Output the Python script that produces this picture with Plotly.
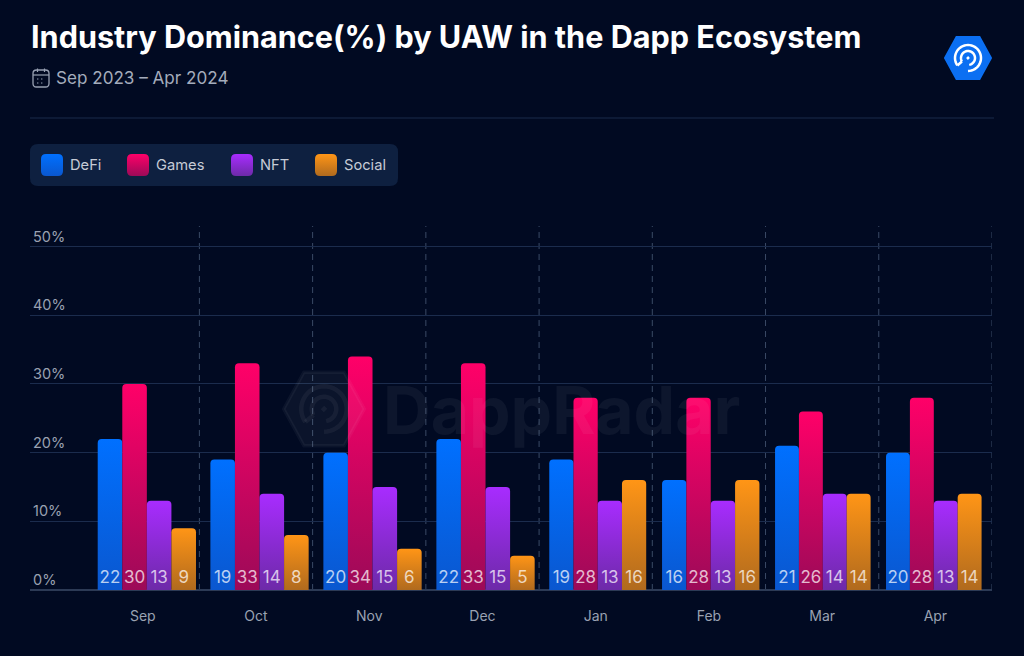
import json

import numpy as np
import plotly.graph_objects as go

months = ["Sep", "Oct", "Nov", "Dec", "Jan", "Feb", "Mar", "Apr"]
defi = [22, 19, 20, 22, 19, 16, 21, 20]
games = [30, 33, 34, 33, 28, 28, 26, 28]
nft = [13, 14, 15, 15, 13, 13, 14, 13]
social = [9, 8, 6, 5, 16, 16, 14, 14]
y_ticks = [0, 10, 20, 30, 40, 50]

series_names = ["DeFi", "Games", "NFT", "Social"]
series_values = [defi, games, nft, social]
top_colors = ["#0070ff", "#ff0068", "#a82cff", "#ff9516"]
bottom_colors = ["#0a57cf", "#9c0a58", "#6d2aa8", "#b06a1e"]

BG = "#010a22"
W, H = 1024, 656
LEFT, RIGHT, TOP, BOTTOM = 30, 992, 226, 590

# the groups drift and narrow slightly towards the right in the original
group_start = [-0.398, -0.403, -0.405, -0.407, -0.41, -0.414, -0.416, -0.436]
bar_width = [0.217, 0.217, 0.217, 0.217, 0.214, 0.215, 0.211, 0.211]


def xp(x):
    return (x - LEFT) / (RIGHT - LEFT)


def yp(y):
    return (BOTTOM - y) / (BOTTOM - TOP)


def rounded_rect(x0, y0, x1, y1, r):
    return (
        f"M{xp(x0 + r)},{yp(y0)} L{xp(x1 - r)},{yp(y0)} Q{xp(x1)},{yp(y0)} {xp(x1)},{yp(y0 + r)} "
        f"L{xp(x1)},{yp(y1 - r)} Q{xp(x1)},{yp(y1)} {xp(x1 - r)},{yp(y1)} "
        f"L{xp(x0 + r)},{yp(y1)} Q{xp(x0)},{yp(y1)} {xp(x0)},{yp(y1 - r)} "
        f"L{xp(x0)},{yp(y0 + r)} Q{xp(x0)},{yp(y0)} {xp(x0 + r)},{yp(y0)} Z"
    )


def hexagon(cx, cy, w, h):
    pts = [(cx - w / 2, cy), (cx - w / 4, cy - h / 2), (cx + w / 4, cy - h / 2),
           (cx + w / 2, cy), (cx + w / 4, cy + h / 2), (cx - w / 4, cy + h / 2)]
    return "M" + " L".join(f"{xp(a)},{yp(b)}" for a, b in pts) + " Z"


def arc(cx, cy, r, start, end):
    t = np.radians(np.linspace(start, end, 40))
    return "M" + " L".join(f"{xp(cx + r * np.cos(a))},{yp(cy + r * np.sin(a))}" for a in t)


def paper_shape(path, **kw):
    return dict(type="path", xref="paper", yref="paper", path=path, **kw)


def logo_shapes(cx, cy, scale, fill, stroke, width):
    out = [paper_shape(hexagon(cx, cy, 46 * scale, 42 * scale), fillcolor=fill,
                       line=dict(width=2 * scale, color=fill))]
    out.append(paper_shape(arc(cx, cy, 13 * scale, 145, 450), line=dict(color=stroke, width=width)))
    out.append(paper_shape(arc(cx, cy, 7 * scale, 150, 440), line=dict(color=stroke, width=width)))
    # tail joining the two rings, and the centre dot
    a = np.radians(145)
    b = np.radians(150)
    out.append(paper_shape(
        f"M{xp(cx + 13 * scale * np.cos(a))},{yp(cy + 13 * scale * np.sin(a))} "
        f"L{xp(cx + 7 * scale * np.cos(b))},{yp(cy + 7 * scale * np.sin(b))} "
        f"M{xp(cx - 1 * scale)},{yp(cy + 1 * scale)} L{xp(cx + 1 * scale)},{yp(cy - 1 * scale)}",
        line=dict(color=stroke, width=width)))
    return out


fig = go.Figure()

for i, (name, values) in enumerate(zip(series_names, series_values)):
    fig.add_trace(
        go.Bar(
            x=list(range(len(months))),
            y=values,
            name=name,
            width=bar_width,
            offset=[s + i * w for s, w in zip(group_start, bar_width)],
            marker=dict(color=top_colors[i], line=dict(width=0)),
            text=values,
            textposition="inside",
            insidetextanchor="start",
            textangle=0,
            constraintext="none",
            textfont=dict(family="Inter", size=17, color="rgba(255,255,255,0.72)"),
            showlegend=False,
        )
    )

shapes = []
annotations = []

# divider + legend panel
shapes.append(dict(type="line", xref="paper", yref="paper", x0=0, x1=xp(994), y0=yp(118), y1=yp(118),
                   line=dict(color="#1b2b4b", width=1)))
shapes.append(paper_shape(rounded_rect(30, 144, 398, 186, 8), fillcolor="#0e2040", line=dict(width=0)))

legend_swatch_x = [41, 127, 231, 315]
swatch_index = []
for name, sx in zip(series_names, legend_swatch_x):
    swatch_index.append(len(shapes))
    shapes.append(paper_shape(rounded_rect(sx, 154, sx + 22, 176, 5), fillcolor="#888888", line=dict(width=0)))
    annotations.append(dict(text=name, xref="paper", yref="paper", x=xp(sx + 27), y=yp(165),
                            xanchor="left", yanchor="middle", showarrow=False,
                            font=dict(family="Inter", size=14.7, color="#c6cbd6")))

# vertical dashed separators between months
for i in range(len(months)):
    shapes.append(dict(type="line", xref="x", yref="paper", x0=i + 0.5, x1=i + 0.5, y0=0, y1=1, layer="below",
                       line=dict(color="#3a4a66", width=1, dash="6px,5px")))

# calendar icon
icon_color = "#98a1b3"
shapes.append(paper_shape(rounded_rect(33, 70, 49, 87, 3.5), line=dict(color=icon_color, width=1.3)))
shapes.append(dict(type="line", xref="paper", yref="paper", x0=xp(33), x1=xp(49), y0=yp(75), y1=yp(75),
                   line=dict(color=icon_color, width=1.2)))
for cal_x in (37.5, 44.5):
    shapes.append(dict(type="line", xref="paper", yref="paper", x0=xp(cal_x), x1=xp(cal_x), y0=yp(68.5), y1=yp(72),
                       line=dict(color=icon_color, width=1.2)))
for dot_x, dot_y in [(37, 79), (41, 79), (37, 83), (41, 83)]:
    shapes.append(dict(type="line", xref="paper", yref="paper", x0=xp(dot_x), x1=xp(dot_x + 1.4),
                       y0=yp(dot_y), y1=yp(dot_y), line=dict(color=icon_color, width=1.2)))

# logo and watermark
shapes += logo_shapes(968, 58, 1.0, "#0b6ff2", "#ffffff", 2.5)
shapes += logo_shapes(324, 409, 1.75, "rgba(255,255,255,0.045)", "rgba(255,255,255,0.05)", 4.5)

annotations.append(dict(text="Sep 2023 – Apr 2024", xref="paper", yref="paper", x=xp(54), y=yp(78),
                        xanchor="left", yanchor="middle", showarrow=False,
                        font=dict(family="Inter", size=17.1, color="#a4acbc")))
annotations.append(dict(text="<b>DappRadar</b>", xref="paper", yref="paper", x=xp(381), y=yp(410),
                        xanchor="left", yanchor="middle", showarrow=False,
                        font=dict(family="Inter", size=66, color="rgba(255,255,255,0.05)")))

fig.update_layout(
    width=W,
    height=H,
    autosize=False,
    margin=dict(l=LEFT, r=W - RIGHT, t=TOP, b=H - BOTTOM, autoexpand=False),
    paper_bgcolor=BG,
    plot_bgcolor=BG,
    barcornerradius=4,
    showlegend=False,
    uniformtext=dict(minsize=17, mode="show"),
    title=dict(
        text="Industry Dominance(%) by UAW in the Dapp Ecosystem",
        x=31 / W, y=1 - 37 / H,
        xref="container", yref="container",
        xanchor="left", yanchor="middle",
        font=dict(family="Inter", size=30.6, color="#ffffff", weight=700),
    ),
    xaxis=dict(
        tickmode="array",
        tickvals=list(range(len(months))),
        ticktext=months,
        range=[-0.996, 7.5],
        showgrid=False,
        zeroline=False,
        showline=False,
        ticks="",
        ticklabelstandoff=16,
        tickfont=dict(family="Inter", size=14, color="#9aa2b2"),
    ),
    yaxis=dict(
        tickmode="array",
        tickvals=y_ticks,
        ticktext=[f"{v}%" for v in y_ticks],
        range=[0, 53],
        ticklabelposition="inside top",
        showgrid=True,
        gridcolor="#1b2c4d",
        gridwidth=1,
        zeroline=True,
        zerolinecolor="#2c3a55",
        zerolinewidth=2,
        tickfont=dict(family="Inter", size=14.5, color="#9aa1b1"),
    ),
    shapes=shapes,
    annotations=annotations,
)

# plotly bars have no gradient fill, so add the gradients to the svg after drawing
post_script = """
document.body.style.margin = '0';
document.body.style.background = '%s';
var gd = document.getElementById('{plot_id}');
var tops = %s, bottoms = %s, swatches = %s;
function paintBars() {
  var svg = gd.querySelector('svg.main-svg');
  if (!svg.querySelector('#grad0')) {
    var ns = 'http://www.w3.org/2000/svg';
    var defs = document.createElementNS(ns, 'defs');
    tops.forEach(function (c, i) {
      var g = document.createElementNS(ns, 'linearGradient');
      g.setAttribute('id', 'grad' + i);
      g.setAttribute('x1', '0'); g.setAttribute('y1', '0');
      g.setAttribute('x2', '0'); g.setAttribute('y2', '1');
      [[0, c], [1, bottoms[i]]].forEach(function (s) {
        var st = document.createElementNS(ns, 'stop');
        st.setAttribute('offset', s[0]);
        st.setAttribute('stop-color', s[1]);
        g.appendChild(st);
      });
      defs.appendChild(g);
    });
    svg.insertBefore(defs, svg.firstChild);
  }
  gd.querySelectorAll('.barlayer .trace').forEach(function (t, i) {
    t.querySelectorAll('.point path').forEach(function (p) {
      p.style.setProperty('fill', 'url(#grad' + i + ')');
    });
  });
  swatches.forEach(function (k, i) {
    var p = gd.querySelector('.shapelayer path[data-index="' + k + '"]');
    if (p) p.style.setProperty('fill', 'url(#grad' + i + ')');
  });
}
paintBars();
gd.on('plotly_afterplot', paintBars);
""" % (BG, json.dumps(top_colors), json.dumps(bottom_colors), json.dumps(swatch_index))

fig.write_html("out.html", post_script=post_script, config={"displayModeBar": False})
